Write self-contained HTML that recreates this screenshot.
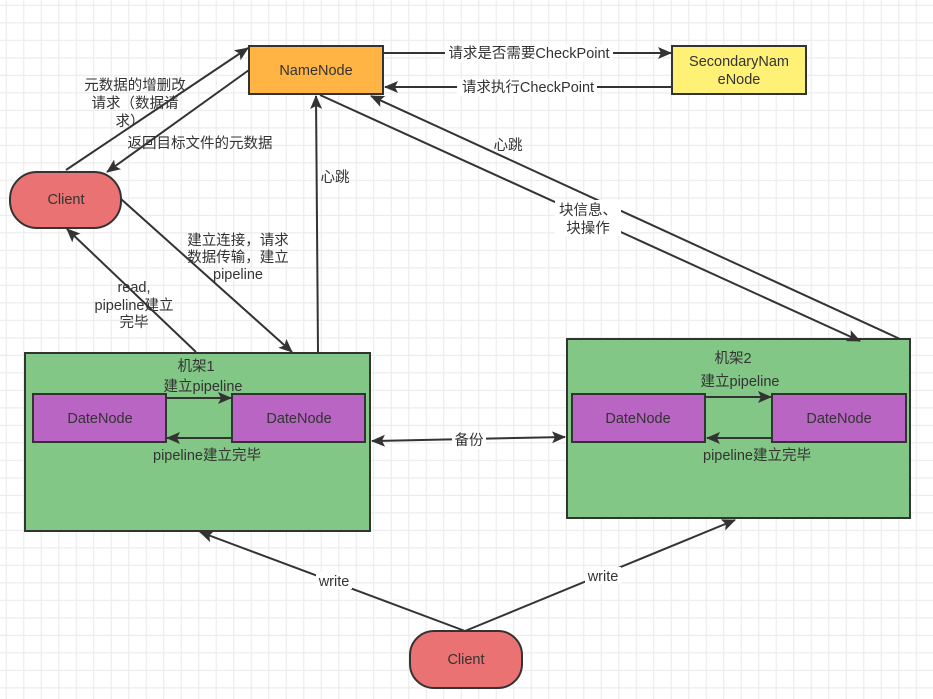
<!DOCTYPE html>
<html><head><meta charset="utf-8"><style>
html,body{margin:0;padding:0;background:#fff;}
svg{display:block;}
text{font-family:"Liberation Sans","Noto Sans CJK SC",sans-serif;font-size:14.5px;fill:#333;text-anchor:middle;}
</style></head><body>
<svg width="933" height="699" viewBox="0 0 933 699" xmlns="http://www.w3.org/2000/svg">
<defs>
<pattern id="g" x="5.7" y="4.8" width="17.5" height="17.5" patternUnits="userSpaceOnUse">
<path d="M0 0.5H17.5M0.5 0V17.5" stroke="#ebebeb" stroke-width="1.2" fill="none"/>
</pattern>
<marker id="a" markerWidth="14" markerHeight="12" refX="13" refY="6" orient="auto" markerUnits="userSpaceOnUse">
<path d="M0,0 L14,6 L0,12 L3,6 Z" fill="#333"/>
</marker>
<marker id="s" markerWidth="14" markerHeight="12" refX="1" refY="6" orient="auto" markerUnits="userSpaceOnUse">
<path d="M14,0 L0,6 L14,12 L11,6 Z" fill="#333"/>
</marker>
</defs>
<rect width="933" height="699" fill="url(#g)"/>

<rect x="249" y="46" width="134" height="48" fill="#ffb444" stroke="#333" stroke-width="2"/>
<text x="316" y="75">NameNode</text>
<rect x="672" y="46" width="134" height="48" fill="#fff176" stroke="#333" stroke-width="2"/>
<text x="739" y="66">SecondaryNam</text>
<text x="739" y="84">eNode</text>
<rect x="10" y="172" width="111" height="56" rx="27" fill="#ea7272" stroke="#333" stroke-width="2"/>
<text x="66" y="204">Client</text>
<rect x="410" y="631" width="112" height="57" rx="24" fill="#ea7272" stroke="#333" stroke-width="2"/>
<text x="466" y="664">Client</text>

<rect x="25" y="353" width="345" height="178" fill="#82c785" stroke="#333" stroke-width="2"/>
<rect x="567" y="339" width="343" height="179" fill="#82c785" stroke="#333" stroke-width="2"/>
<rect x="33" y="394" width="133" height="48" fill="#b965c4" stroke="#333" stroke-width="2"/>
<rect x="232" y="394" width="133" height="48" fill="#b965c4" stroke="#333" stroke-width="2"/>
<rect x="572" y="394" width="133" height="48" fill="#b965c4" stroke="#333" stroke-width="2"/>
<rect x="772" y="394" width="134" height="48" fill="#b965c4" stroke="#333" stroke-width="2"/>
<text x="100" y="423">DateNode</text>
<text x="299" y="423">DateNode</text>
<text x="638" y="423">DateNode</text>
<text x="839" y="423">DateNode</text>
<text x="196" y="371">机架1</text>
<text x="203" y="391">建立pipeline</text>
<text x="207" y="460">pipeline建立完毕</text>
<text x="733" y="363">机架2</text>
<text x="740" y="386">建立pipeline</text>
<text x="757" y="460">pipeline建立完毕</text>

<g stroke="#333" stroke-width="2" fill="none">
<line x1="166" y1="398" x2="231" y2="398" marker-end="url(#a)"/>
<line x1="231" y1="438" x2="167" y2="438" marker-end="url(#a)"/>
<line x1="705" y1="397" x2="771" y2="397" marker-end="url(#a)"/>
<line x1="772" y1="438" x2="707" y2="438" marker-end="url(#a)"/>
<line x1="66" y1="170" x2="248" y2="48" marker-end="url(#a)"/>
<line x1="249" y1="70" x2="107" y2="172" marker-end="url(#a)"/>
<line x1="121" y1="199" x2="292" y2="352" marker-end="url(#a)"/>
<line x1="196" y1="352" x2="67" y2="229" marker-end="url(#a)"/>
<line x1="318" y1="352" x2="316" y2="96" marker-end="url(#a)"/>
<line x1="320" y1="95" x2="860" y2="341" marker-end="url(#a)"/>
<line x1="900" y1="339" x2="371" y2="96" marker-end="url(#a)"/>
<line x1="383" y1="53" x2="671" y2="53" marker-end="url(#a)"/>
<line x1="672" y1="87" x2="385" y2="87" marker-end="url(#a)"/>
<line x1="372" y1="441" x2="565" y2="437" marker-start="url(#s)" marker-end="url(#a)"/>
<line x1="465" y1="631" x2="200" y2="532" marker-end="url(#a)"/>
<line x1="465" y1="631" x2="735" y2="520" marker-end="url(#a)"/>
</g>

<g fill="#fff">
<rect x="445" y="45" width="168" height="17"/>
<rect x="457" y="79" width="140" height="17"/>
<rect x="452" y="432" width="34" height="17"/>
<rect x="316" y="572" width="36" height="17"/>
<rect x="585" y="567" width="36" height="17"/>
<rect x="555" y="200" width="66" height="36"/>
</g>
<text x="529" y="58">请求是否需要CheckPoint</text>
<text x="528" y="92">请求执行CheckPoint</text>
<text x="469" y="445">备份</text>
<text x="334" y="586">write</text>
<text x="603" y="581">write</text>
<text x="588" y="215">块信息、</text>
<text x="588" y="233">块操作</text>
<text x="508" y="150">心跳</text>
<text x="335" y="182">心跳</text>
<text x="135" y="90">元数据的增删改</text>
<text x="135" y="108">请求（数据请</text>
<text x="130" y="126">求）</text>
<text x="200" y="148">返回目标文件的元数据</text>
<text x="238" y="245">建立连接，请求</text>
<text x="238" y="262">数据传输，建立</text>
<text x="238" y="279">pipeline</text>
<text x="134" y="292">read,</text>
<text x="134" y="310">pipeline建立</text>
<text x="134" y="327">完毕</text>
</svg>
</body></html>
